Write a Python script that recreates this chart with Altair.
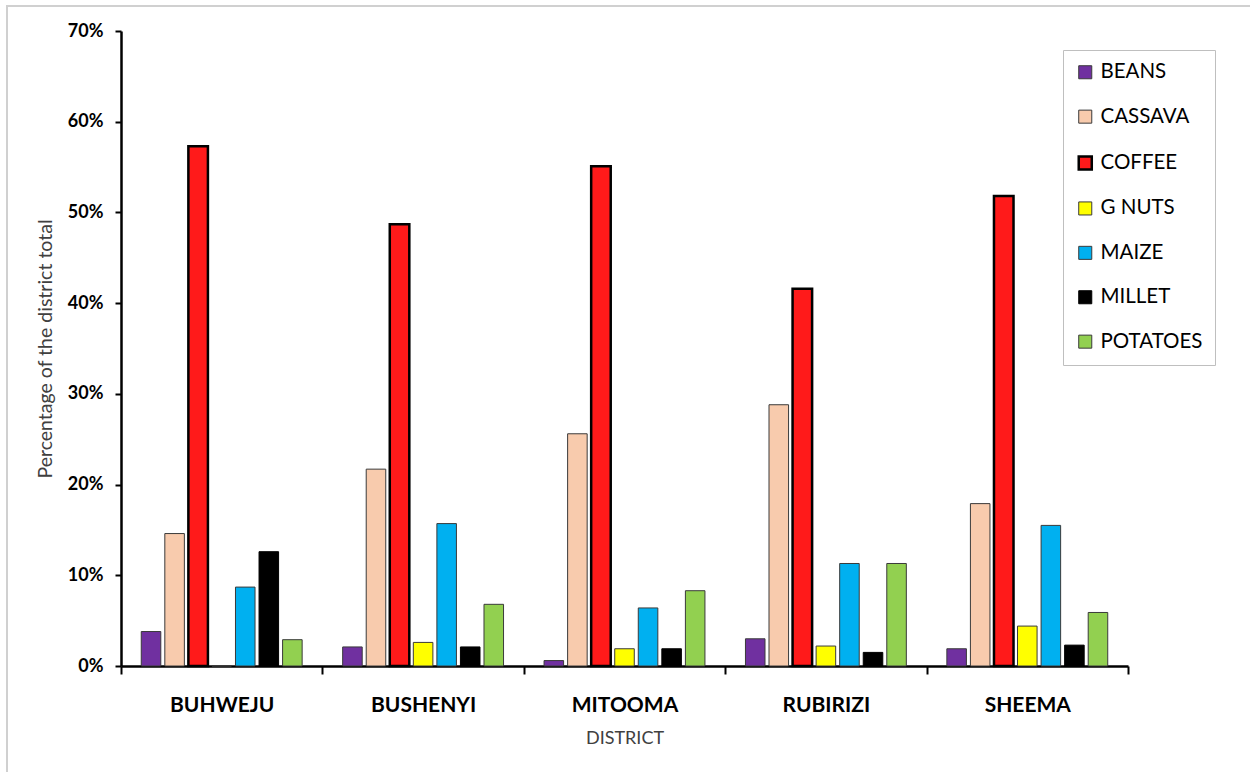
import altair as alt
import pandas as pd

districts = ["BUHWEJU", "BUSHENYI", "MITOOMA", "RUBIRIZI", "SHEEMA"]
crops = ["BEANS", "CASSAVA", "COFFEE", "G NUTS", "MAIZE", "MILLET", "POTATOES"]

# share of each crop in the district total, in percent (rows follow `crops`)
beans = [3.8, 2.1, 0.6, 3.0, 1.9]
cassava = [14.6, 21.7, 25.6, 28.8, 17.9]
coffee = [57.3, 48.7, 55.1, 41.6, 51.8]
gnuts = [0.0, 2.6, 1.9, 2.2, 4.4]
maize = [8.7, 15.7, 6.4, 11.3, 15.5]
millet = [12.6, 2.1, 1.9, 1.5, 2.3]
potatoes = [2.9, 6.8, 8.3, 11.3, 5.9]

fills = ["#7030A0", "#F8CBAD", "#FF1A1A", "#FFFF00", "#00B0F0", "#000000", "#92D050"]
strokes = ["#3a3a3a", "#3a3a3a", "#000000", "#3a3a3a", "#3a3a3a", "#000000", "#3a3a3a"]
stroke_widths = [1, 1, 2.5, 1, 1, 1, 1]

series = [beans, cassava, coffee, gnuts, maize, millet, potatoes]
rows = []
for crop, vals in zip(crops, series):
    for d, v in zip(districts, vals):
        rows.append({"district": d, "crop": crop, "share": v / 100})
df = pd.DataFrame(rows)

FONT = "Lato"

legend_style = dict(
    title=None,
    orient="none",
    legendX=942,
    legendY=19,
    symbolType="square",
    symbolSize=170,
    labelFont=FONT,
    labelFontSize=20.5,
    labelColor="#000000",
    labelOffset=5,
    rowPadding=23.4,
    padding=12,
    strokeColor="#BFBFBF",
    fillColor="#FFFFFF",
    labelLimit=200,
)

bars = alt.Chart(df).mark_bar(strokeOpacity=1).encode(
    x=alt.X(
        "district:N",
        sort=districts,
        scale=alt.Scale(paddingInner=0, paddingOuter=0),
        axis=alt.Axis(
            title="DISTRICT",
            labelAngle=0,
            labelFont=FONT,
            labelFontSize=21,
            labelFontWeight="bold",
            labelColor="#000000",
            labelPadding=20,
            tickBand="extent",
            tickSize=8,
            tickWidth=2,
            tickColor="#000000",
            domainColor="#000000",
            domainWidth=2.5,
            titleFont=FONT,
            titleFontSize=18,
            titleFontWeight="normal",
            titleColor="#404040",
            titlePadding=14,
        ),
    ),
    xOffset=alt.XOffset(
        "crop:N",
        sort=crops,
        scale=alt.Scale(domain=crops, paddingInner=0.17, paddingOuter=0.86),
    ),
    y=alt.Y(
        "share:Q",
        scale=alt.Scale(domain=[0, 0.7], nice=False),
        axis=alt.Axis(
            title="Percentage of the district total",
            values=[0, 0.1, 0.2, 0.3, 0.4, 0.5, 0.6, 0.7],
            format=".0%",
            grid=False,
            labelFont=FONT,
            labelFontSize=18,
            labelFontWeight="bold",
            labelColor="#000000",
            labelPadding=12,
            tickSize=6,
            tickWidth=2,
            tickColor="#000000",
            domainColor="#000000",
            domainWidth=2.5,
            titleFont=FONT,
            titleFontSize=19.5,
            titleFontWeight="normal",
            titleColor="#404040",
            titlePadding=12,
        ),
    ),
    fill=alt.Fill(
        "crop:N",
        sort=crops,
        scale=alt.Scale(domain=crops, range=fills),
        legend=alt.Legend(**legend_style),
    ),
    stroke=alt.Stroke(
        "crop:N",
        sort=crops,
        scale=alt.Scale(domain=crops, range=strokes),
        legend=alt.Legend(**legend_style),
    ),
    strokeWidth=alt.StrokeWidth(
        "crop:N",
        sort=crops,
        scale=alt.Scale(type="ordinal", domain=crops, range=stroke_widths),
        legend=alt.Legend(**legend_style),
    ),
)

# thin grey frame drawn around the whole figure
frame = alt.Chart(pd.DataFrame({"k": [0]})).mark_rect(
    fill=None, stroke="#D0D0D0", strokeWidth=2
).encode(
    x=alt.value(-114), x2=alt.value(1150),
    y=alt.value(-25), y2=alt.value(760),
)

chart = alt.layer(frame, bars).properties(
    width=1007,
    height=635,
    autosize=alt.AutoSizeParams(type="none"),
    padding={"left": 121, "top": 31, "right": 122, "bottom": 106},
    background="#FFFFFF",
).configure_view(stroke=None)

chart.save("out.html", embed_options={"renderer": "svg", "actions": False})
